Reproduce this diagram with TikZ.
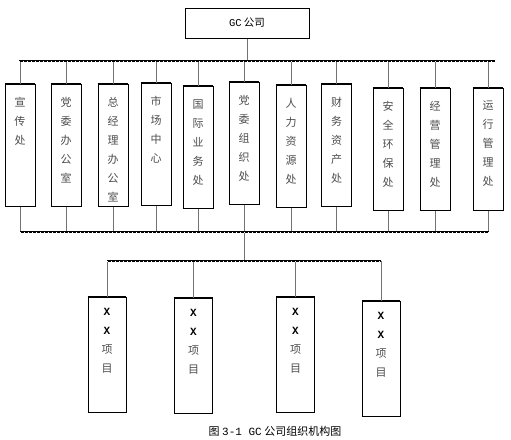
\documentclass[tikz,border=0pt]{standalone}
\usepackage{fontspec}
\setmainfont{Noto Sans CJK SC}
\newfontfamily\monofont{Liberation Mono}
% vertical column of characters, top aligned
\newcommand{\vcol}[4]{\parbox[c][#1][t]{#2}{\centering\fontsize{11}{19}\selectfont\vspace*{#3}#4}}
\newcommand{\xx}{{\color{black}\monofont\bfseries X}}
\begin{document}
\begin{tikzpicture}[x=1pt,y=-1pt,
    unit/.style={draw,line width=0.6pt,inner sep=0pt,anchor=north,text=black!70},
    link/.style={draw=black!55,line width=0.9pt},
    bus/.style={line width=2pt},
    busdots/.style={white,line width=0.3pt,dash pattern=on 0.6pt off 3.4pt}]
    \useasboundingbox (0,0) rectangle (511,439);
    %% company
    \node[draw,line width=1pt,minimum width=124pt,minimum height=30pt] (gc) at (247,23)
        {\fontsize{10.5}{10.5}\selectfont{\monofont GC} 公司};
    %% departments
    \foreach \n/\x/\y/\t in {1/20/84/{宣\\传\\处},
                             2/66/84/{党\\委\\办\\公\\室},
                             3/113/84/{总\\经\\理\\办\\公\\室},
                             4/156/83/{市\\场\\中\\心},
                             5/198/86/{国\\际\\业\\务\\处},
                             6/244/82/{党\\委\\组\\织\\处},
                             7/291/85/{人\\力\\资\\源\\处},
                             8/336.5/84/{财\\务\\资\\产\\处},
                             9/388/88/{安\\全\\环\\保\\处},
                             10/435/88/{经\\营\\管\\理\\处},
                             11/488/88/{运\\行\\管\\理\\处}}
        \node[unit] (d\n) at (\x,\y) {\vcol{122pt}{30pt}{13pt}{\t}};
    %% projects
    \foreach \n/\x/\y in {1/107/297, 2/193.5/298, 3/295.5/297, 4/381/301}
        \node[unit] (p\n) at (\x,\y) {\vcol{115pt}{38pt}{11pt}{\xx\\\xx\\项\\目}};
    %% heavy top and bottom edges
    \foreach \b in {d1,d2,d3,d4,d5,d6,d7,d8,d9,d10,d11,p1,p2,p3,p4} {
        \draw[line width=1.6pt] (\b.north west) -- (\b.north east);
        \draw[line width=1.6pt] (\b.south west) -- (\b.south east);
    }
    %% buses
    \coordinate (topL) at (19,61);
    \coordinate (topR) at (495,61);
    \coordinate (midL) at (20,232);
    \coordinate (midR) at (489,232);
    \coordinate (subL) at (107,261);
    \coordinate (subR) at (381,261);
    %% connectors
    \draw[link] (gc.south) -- (gc.south |- topL);
    \foreach \n in {1,...,11} {
        \draw[link] (d\n.north) -- (d\n.north |- topL);
        \draw[link] (d\n.south) -- (d\n.south |- midL);
    }
    \draw[link] (d6.south |- midL) -- (d6.south |- subL);
    \foreach \n in {1,...,4}
        \draw[link] (p\n.north) -- (p\n.north |- subL);
    \draw[bus] (topL) -- (topR);
    \draw[bus] (midL) -- (midR);
    \draw[bus] (subL) -- (subR);
    \draw[busdots] (topL) -- (topR);
    \draw[busdots] (midL) -- (midR);
    \draw[busdots] (subL) -- (subR);
    %% caption
    \node (cap) at (275,431) {\fontsize{11}{11}\selectfont 图 {\monofont 3-1 GC} 公司组织机构图};
\end{tikzpicture}
\end{document}
